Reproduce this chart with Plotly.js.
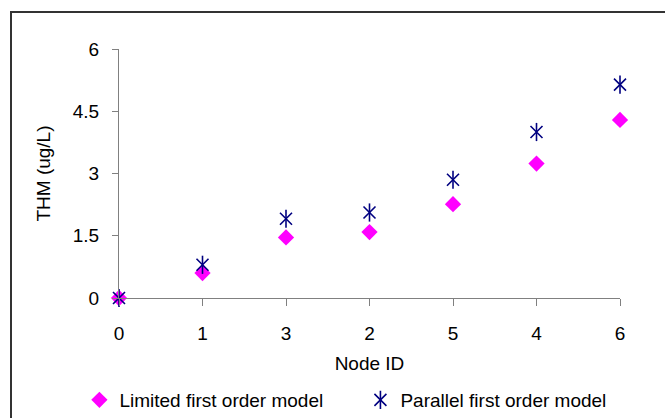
<!DOCTYPE html>
<html>
<head>
<meta charset="utf-8">
<script src="https://cdn.plot.ly/plotly-3.0.1.min.js"></script>
<style>
html,body{margin:0;padding:0;background:#fff;}
#wrap{position:relative;width:665px;height:418px;overflow:hidden;}
#chart{width:665px;height:418px;}
#frame{position:absolute;left:10px;top:11px;width:700px;height:500px;border:2px solid #333;pointer-events:none;box-sizing:border-box;}
</style>
</head>
<body>
<div id="wrap"><div id="chart"></div><div id="frame"></div></div>
<script>
var nodeIds = ["0", "1", "3", "2", "5", "4", "6"];
var limitedModel = [0, 0.60, 1.46, 1.59, 2.26, 3.24, 4.29];
var parallelModel = [0, 0.80, 1.91, 2.06, 2.85, 4.00, 5.14];
var seriesNames = ["Limited first order model", "Parallel first order model"];

var font = {family: "Liberation Sans, Arial, sans-serif", size: 19, color: "#000"};

var traces = [
  {
    x: nodeIds, y: limitedModel, type: "scatter", mode: "markers",
    name: seriesNames[0], legend: "legend",
    marker: {symbol: "diamond", size: 12.5, color: "#FF00FF"},
    cliponaxis: false
  },
  {
    x: nodeIds, y: parallelModel, type: "scatter", mode: "markers",
    name: seriesNames[1], legend: "legend2",
    marker: {symbol: "x-thin-open", size: 12, color: "#000080", line: {color: "#000080", width: 1.6}},
    cliponaxis: false
  },
  {
    x: nodeIds, y: parallelModel, type: "scatter", mode: "markers",
    name: " ", legend: "legend3",
    marker: {symbol: "line-ns-open", size: 13, color: "#000080", line: {color: "#000080", width: 1.6}},
    cliponaxis: false
  }
];

function legendAt(x) {
  return {
    orientation: "h", xref: "container", yref: "container",
    x: x, xanchor: "left", y: 0.0431, yanchor: "middle",
    font: font, itemclick: false, bgcolor: "rgba(0,0,0,0)"
  };
}

var layout = {
  width: 665, height: 418,
  margin: {l: 119, r: 45, t: 49, b: 120},
  paper_bgcolor: "#fff", plot_bgcolor: "#fff",
  font: font,
  showlegend: true,
  legend: legendAt(0.1194),
  legend2: legendAt(0.542),
  legend3: legendAt(0.542),
  xaxis: {
    type: "category", range: [0, 6], automargin: false,
    showgrid: false, zeroline: false,
    showline: true, linecolor: "#808080", linewidth: 1,
    ticks: "outside", ticklen: 7, tickcolor: "#808080",
    tickfont: font,
    ticklabelstandoff: 11,
    title: {text: "Node ID", font: font, standoff: 13}
  },
  yaxis: {
    range: [0, 6], tick0: 0, dtick: 1.5, automargin: false,
    showgrid: false, zeroline: false,
    showline: true, linecolor: "#808080", linewidth: 1,
    ticks: "outside", ticklen: 6, tickcolor: "#808080",
    tickfont: font,
    ticklabelstandoff: 9,
    title: {text: "THM (ug/L)", font: font, standoff: 17}
  }
};

Plotly.newPlot("chart", traces, layout, {staticPlot: true, displayModeBar: false});
</script>
</body>
</html>
